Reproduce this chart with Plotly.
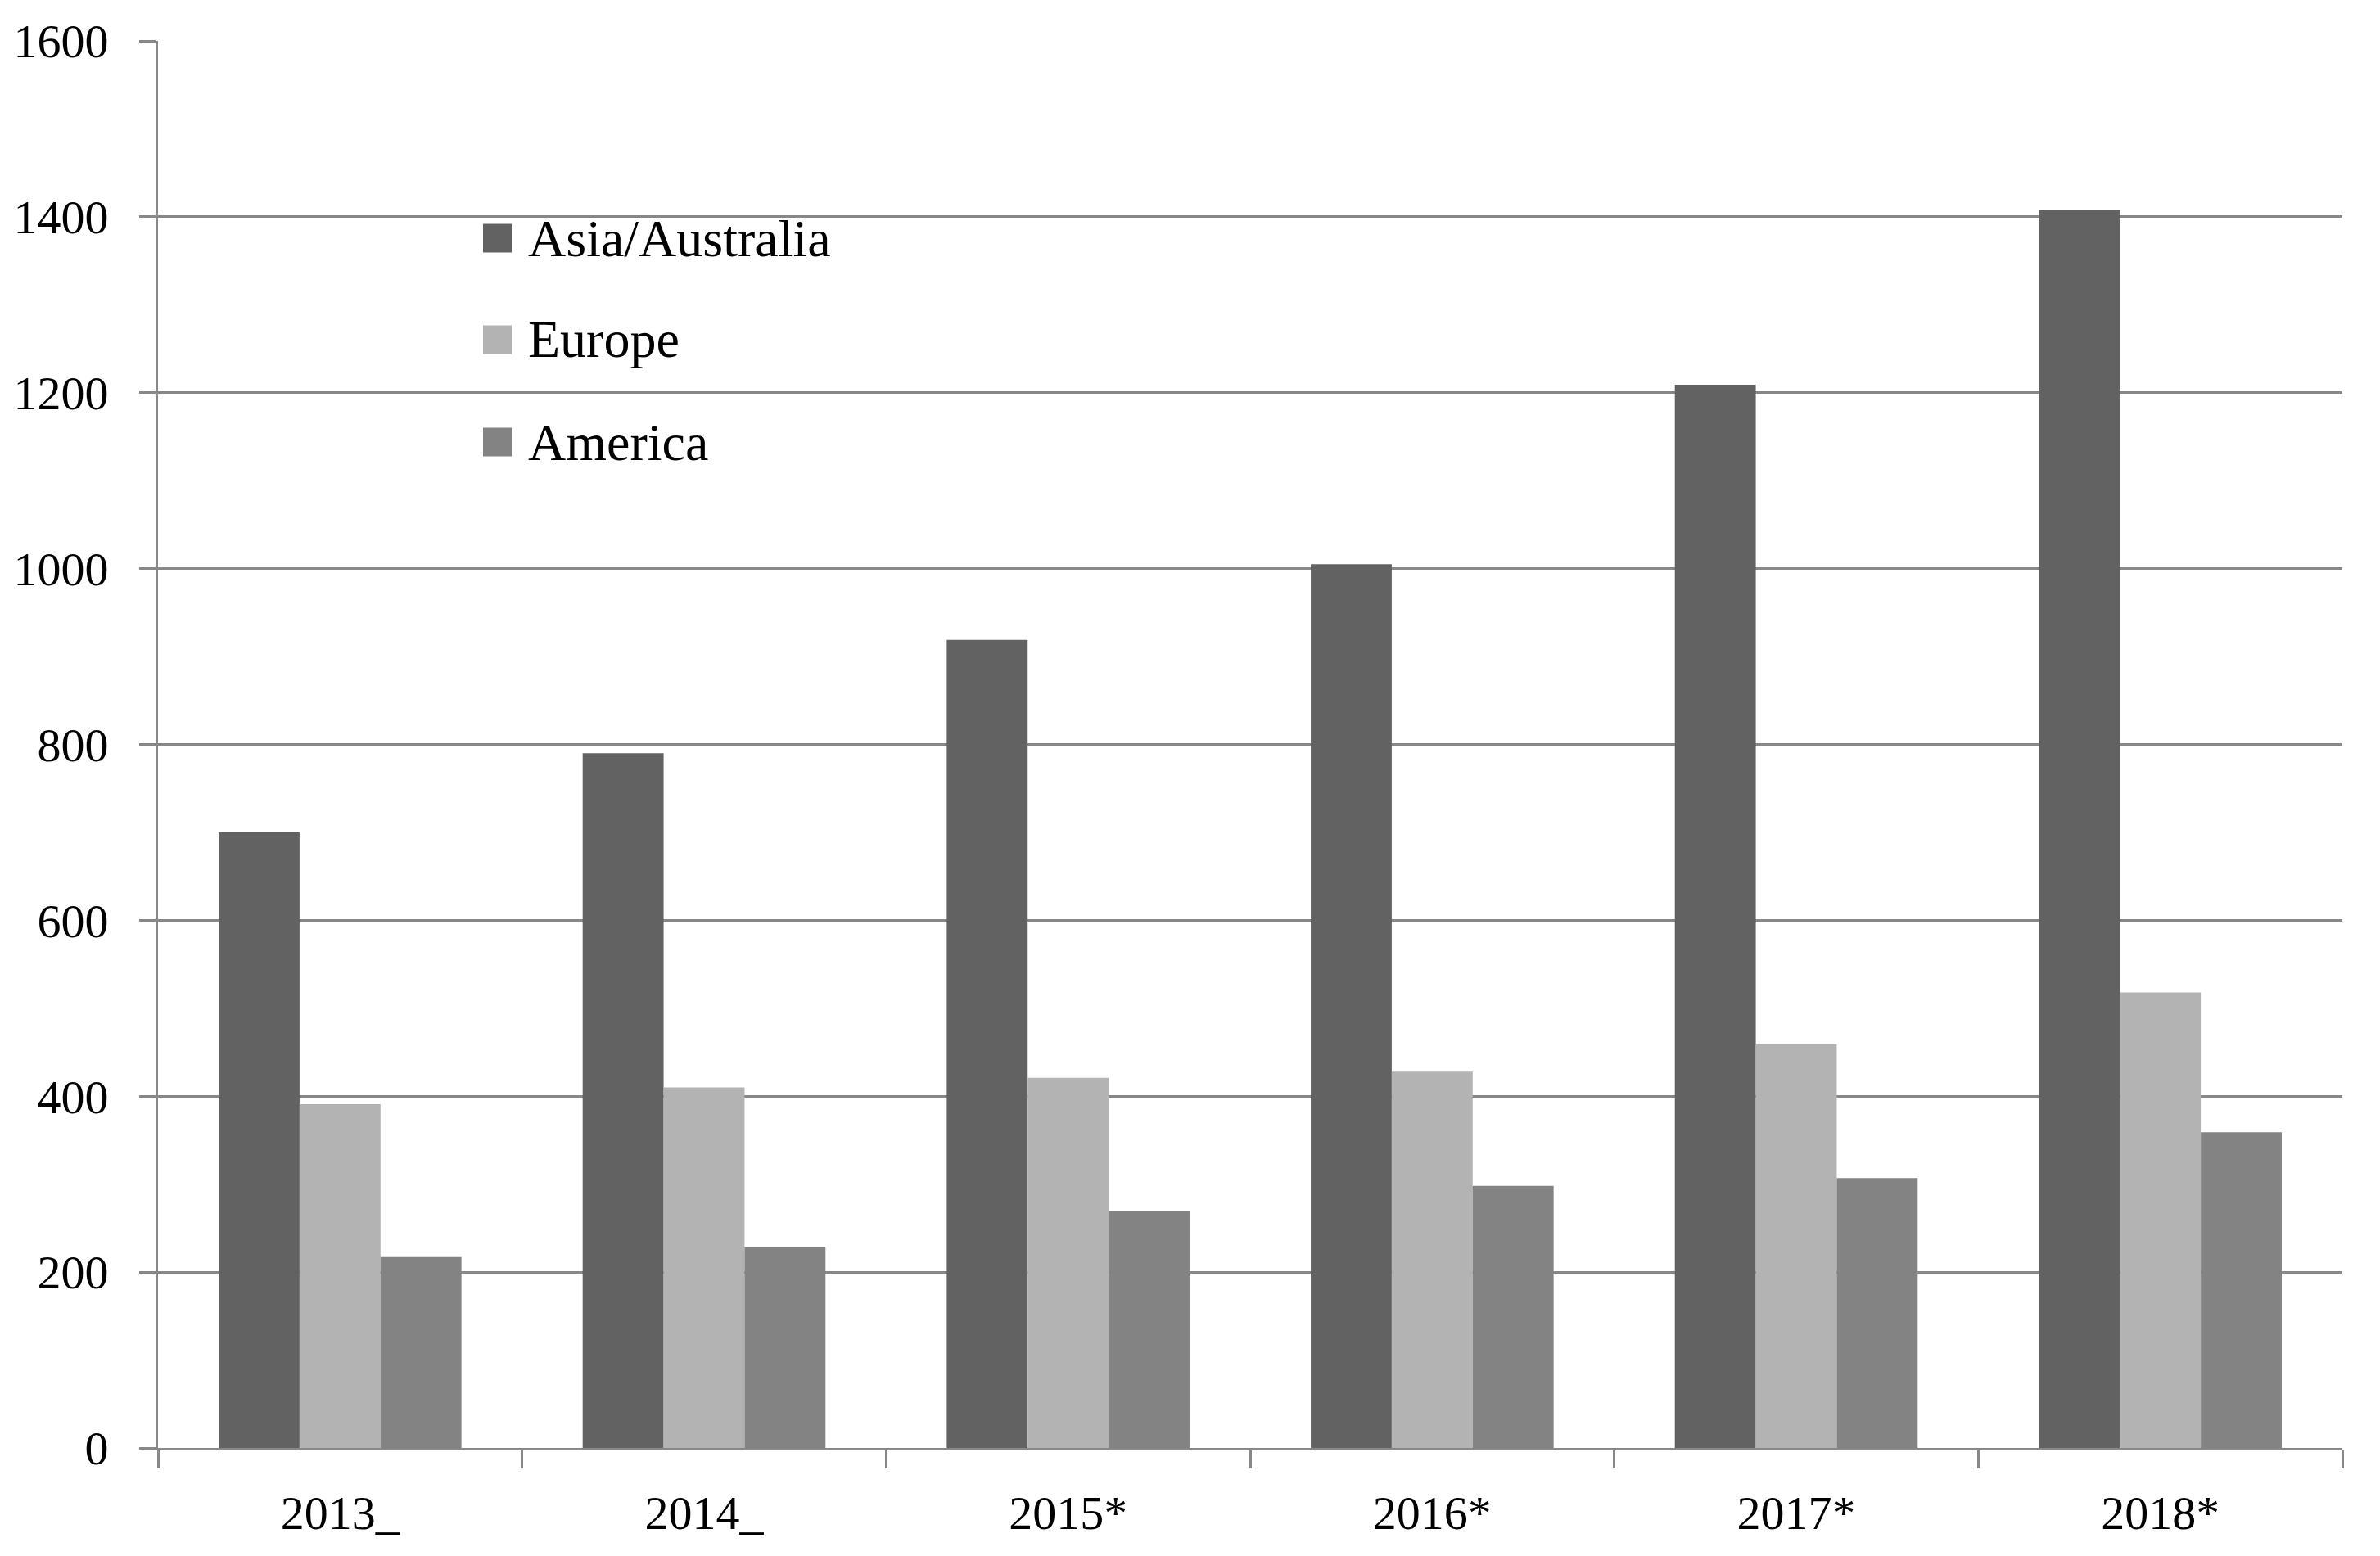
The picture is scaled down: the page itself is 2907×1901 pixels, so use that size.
import plotly.graph_objects as go

# ---- data ----
categories = ["2013_", "2014_", "2015*", "2016*", "2017*", "2018*"]
series_names = ["Asia/Australia", "Europe", "America"]
asia = [700, 790, 919, 1005, 1209, 1408]
europe = [391, 410, 421, 428, 459, 518]
america = [217, 228, 269, 298, 307, 359]
y_ticks = [0, 200, 400, 600, 800, 1000, 1200, 1400, 1600]

colors = ["#626262", "#b3b3b3", "#838383"]
values = [asia, europe, america]

OFF = 8  # browser body margin
W, H = 2907 - OFF, 1901 - OFF
ML, MR, MT, MB = 193 - OFF, 46, 50 - OFF, 132
PW, PH = W - ML - MR, H - MT - MB
FONT = "Palatino Linotype, Book Antiqua, Liberation Serif, DejaVu Serif, serif"
GRID = "#888888"

fig = go.Figure()
for name, vals, col in zip(series_names, values, colors):
    fig.add_trace(go.Bar(x=categories, y=vals, name=name, marker_color=col,
                         marker_line_width=0, showlegend=False))

# legend drawn manually (large square swatches); positions in page pixels
leg_x0_px, sw_px, txt_x_px = 590, 35, 643
row_y_px = [291, 415, 540]
for name, col, ry in zip(series_names, colors, row_y_px):
    yc = (H + OFF - MB - ry) / PH
    half = (sw_px / 2) / PH
    fig.add_shape(type="rect", xref="paper", yref="paper",
                  x0=(leg_x0_px - OFF - ML) / PW, x1=(leg_x0_px + sw_px - OFF - ML) / PW,
                  y0=yc - half, y1=yc + half, fillcolor=col, line_width=0)
    fig.add_annotation(xref="paper", yref="paper", x=(txt_x_px - OFF - ML) / PW, y=yc,
                       text=name, showarrow=False, xanchor="left", yanchor="middle",
                       font=dict(family=FONT, size=64, color="black"))

fig.update_layout(
    width=W, height=H,
    margin=dict(l=ML, r=MR, t=MT, b=MB, autoexpand=False),
    paper_bgcolor="white", plot_bgcolor="white",
    barmode="group", bargap=0.333, bargroupgap=0,
    font=dict(family=FONT, size=58, color="black"),
    showlegend=False,
)
fig.update_xaxes(type="category", showline=True, linecolor=GRID, linewidth=3,
                 ticks="outside", tickson="boundaries", ticklen=22, tickwidth=3,
                 tickcolor=GRID, showgrid=False, ticklabelstandoff=26, automargin=False,
                 tickfont=dict(family=FONT, size=58, color="black"))
fig.update_yaxes(range=[0, 1600], tickvals=y_ticks, showline=True, linecolor=GRID,
                 linewidth=3, ticks="outside", ticklen=20, tickwidth=3, tickcolor=GRID,
                 showgrid=True, gridcolor=GRID, gridwidth=3, zeroline=False,
                 ticklabelstandoff=26, automargin=False,
                 tickfont=dict(family=FONT, size=58, color="black"))

fig.write_html("out.html")
